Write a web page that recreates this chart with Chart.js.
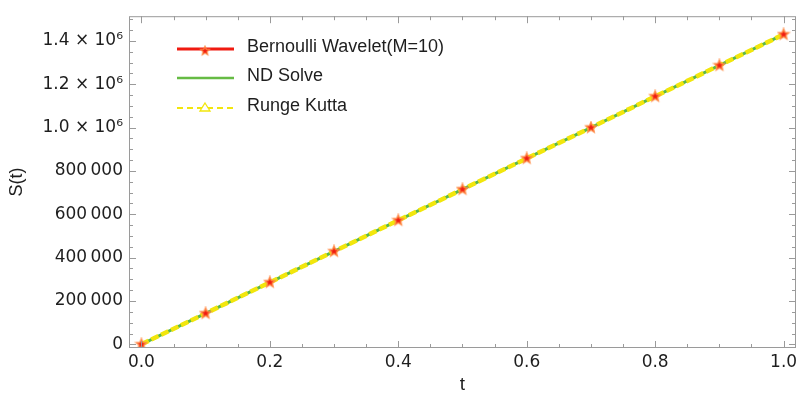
<!DOCTYPE html>
<html>
<head>
<meta charset="utf-8">
<script src="https://cdn.jsdelivr.net/npm/chart.js@4.4.1/dist/chart.umd.min.js"></script>
<style>
  html, body { margin: 0; padding: 0; background: #fff; }
  #wrap { width: 804px; height: 399px; }
</style>
</head>
<body>
<div id="wrap"><canvas id="chart"></canvas></div>
<script>
// values
const tValues = [0.0, 0.1, 0.2, 0.3, 0.4, 0.5, 0.6, 0.7, 0.8, 0.9, 1.0];
const bernoulli = [0, 143000, 286000, 429000, 572000, 715000, 858000, 1000000, 1144000, 1287000, 1430000];
const ndSolve = [0, 143000, 286000, 429000, 572000, 715000, 858000, 1000000, 1144000, 1287000, 1430000];
const rungeKutta = [0, 143000, 286000, 429000, 572000, 715000, 858000, 1000000, 1144000, 1287000, 1430000];

const xTicks = [0, 0.2, 0.4, 0.6, 0.8, 1.0];
const xMinor = [0.05, 0.1, 0.15, 0.25, 0.3, 0.35, 0.45, 0.5, 0.55, 0.65, 0.7, 0.75, 0.85, 0.9, 0.95];
const yTicks = [0, 200000, 400000, 600000, 800000, 1000000, 1200000, 1400000];
const yMinor = [50000, 100000, 150000, 250000, 300000, 350000, 450000, 500000, 550000,
  650000, 700000, 750000, 850000, 900000, 950000, 1050000, 1100000, 1150000, 1250000,
  1300000, 1350000, 1450000, 1500000];
const legendLabels = ['Bernoulli Wavelet(M=10)', 'ND Solve', 'Runge Kutta'];

function pts(ys) {
  return tValues.map((t, i) => ({ x: t, y: ys[i] }));
}

// filled star marker
function makeStar(size) {
  const c = document.createElement('canvas');
  c.width = size; c.height = size;
  const g = c.getContext('2d');
  const cx = size / 2, cy = size / 2, ro = size / 2 - 1.5, ri = ro * 0.45;
  g.beginPath();
  for (let i = 0; i < 10; i++) {
    const r = i % 2 === 0 ? ro : ri;
    const a = -Math.PI / 2 + i * Math.PI / 5;
    const px = cx + r * Math.cos(a), py = cy + r * Math.sin(a);
    if (i === 0) g.moveTo(px, py); else g.lineTo(px, py);
  }
  g.closePath();
  g.fillStyle = '#f01a10';
  g.fill();
  g.lineWidth = 1.5;
  g.strokeStyle = 'rgba(255,140,70,0.9)';
  g.stroke();
  return c;
}
const star = makeStar(14);

function fmtY(v) {
  if (v === 0) return '0';
  if (v >= 1000000) return (v / 1000000).toFixed(1) + ' \u00d7 10\u2076';
  const s = String(v);
  return s.slice(0, s.length - 3) + '\u2009' + s.slice(-3);
}

const framePlugin = {
  id: 'frame',
  afterDatasetsDraw(chart) {
    const { ctx, chartArea: a, scales: { x, y } } = chart;
    ctx.save();
    ctx.strokeStyle = '#9a9a9a';
    ctx.lineWidth = 1;
    ctx.strokeRect(a.left + 0.5, a.top + 0.5, a.right - a.left - 1, a.bottom - a.top - 1);
    ctx.beginPath();
    const xt = (v, len) => {
      const px = Math.round(x.getPixelForValue(v)) + 0.5;
      ctx.moveTo(px, a.bottom); ctx.lineTo(px, a.bottom - len);
      ctx.moveTo(px, a.top); ctx.lineTo(px, a.top + len);
    };
    const yt = (v, len) => {
      const py = Math.round(y.getPixelForValue(v)) + 0.5;
      ctx.moveTo(a.left, py); ctx.lineTo(a.left + len, py);
      ctx.moveTo(a.right, py); ctx.lineTo(a.right - len, py);
    };
    xTicks.forEach(v => xt(v, 7));
    xMinor.forEach(v => xt(v, 4));
    yTicks.forEach(v => yt(v, 7));
    yMinor.forEach(v => yt(v, 4));
    ctx.stroke();
    ctx.restore();
  },
  afterDraw(chart) {
    const ctx = chart.ctx;
    const x0 = 177, x1 = 234, tx = 247;
    const rows = [49, 78, 108];
    ctx.save();
    // Bernoulli
    ctx.strokeStyle = '#f01a10'; ctx.lineWidth = 3;
    ctx.beginPath(); ctx.moveTo(x0, rows[0]); ctx.lineTo(x1, rows[0]); ctx.stroke();
    ctx.drawImage(star, 205 - 6, rows[0] + 2 - 6, 12, 12);
    // ND Solve
    ctx.strokeStyle = '#66bb44'; ctx.lineWidth = 2.5;
    ctx.beginPath(); ctx.moveTo(x0, rows[1]); ctx.lineTo(x1, rows[1]); ctx.stroke();
    // Runge Kutta
    ctx.strokeStyle = '#f2e60c'; ctx.lineWidth = 2;
    ctx.setLineDash([6, 4]);
    ctx.beginPath(); ctx.moveTo(x0, rows[2]); ctx.lineTo(x1, rows[2]); ctx.stroke();
    ctx.setLineDash([]);
    ctx.lineWidth = 1.3;
    ctx.fillStyle = '#fff';
    ctx.beginPath();
    ctx.moveTo(205, rows[2] - 5); ctx.lineTo(210, rows[2] + 3); ctx.lineTo(200, rows[2] + 3);
    ctx.closePath(); ctx.fill(); ctx.stroke();
    // texts
    ctx.fillStyle = '#1e1e1e';
    ctx.font = '18px "Liberation Sans", Arial, sans-serif';
    ctx.textBaseline = 'middle';
    legendLabels.forEach((t, i) => ctx.fillText(t, tx, rows[i] - 2));
    ctx.restore();
  }
};

const tickFont = { family: '"DejaVu Sans", sans-serif', size: 17 };

new Chart(document.getElementById('chart'), {
  type: 'scatter',
  data: {
    datasets: [
      {
        label: legendLabels[0],
        data: pts(bernoulli),
        showLine: false,
        pointStyle: star,
        pointRadius: 7,
        order: 0
      },
      {
        label: legendLabels[2],
        data: pts(rungeKutta),
        showLine: true,
        borderColor: '#f2e60c',
        borderWidth: 4.5,
        borderDash: [8, 3],
        pointRadius: 0,
        order: 1
      },
      {
        label: legendLabels[1],
        data: pts(ndSolve),
        showLine: true,
        borderColor: '#5cb848',
        borderWidth: 3,
        pointRadius: 0,
        order: 2
      }
    ]
  },
  options: {
    responsive: true,
    maintainAspectRatio: false,
    animation: false,
    layout: { padding: { top: 13, right: 2.5, left: 0, bottom: 0 } },
    plugins: {
      legend: { display: false },
      tooltip: { enabled: false }
    },
    scales: {
      x: {
        type: 'linear',
        min: -0.0193,
        max: 1.0193,
        grid: { display: false, drawTicks: false },
        border: { display: false },
        afterBuildTicks: s => { s.ticks = xTicks.map(v => ({ value: v })); },
        afterFit: s => { s.height = 51; },
        ticks: {
          padding: 4,
          color: '#1e1e1e',
          font: tickFont,
          callback: v => v.toFixed(1)
        },
        title: {
          display: true,
          text: 't',
          color: '#1e1e1e',
          font: { family: '"Liberation Sans", Arial, sans-serif', size: 19 },
          padding: { top: 0, bottom: 3 }
        }
      },
      y: {
        type: 'linear',
        min: -16900,
        max: 1514000,
        grid: { display: false, drawTicks: false },
        border: { display: false },
        afterBuildTicks: s => { s.ticks = yTicks.map(v => ({ value: v })); },
        afterFit: s => { s.width = 129; },
        ticks: {
          padding: 6,
          color: '#1e1e1e',
          font: tickFont,
          callback: v => fmtY(v)
        },
        title: {
          display: true,
          text: 'S(t)',
          color: '#1e1e1e',
          font: { family: '"Liberation Sans", Arial, sans-serif', size: 18 },
          padding: { top: 6, bottom: 0 }
        }
      }
    }
  },
  plugins: [framePlugin]
});
</script>
</body>
</html>
